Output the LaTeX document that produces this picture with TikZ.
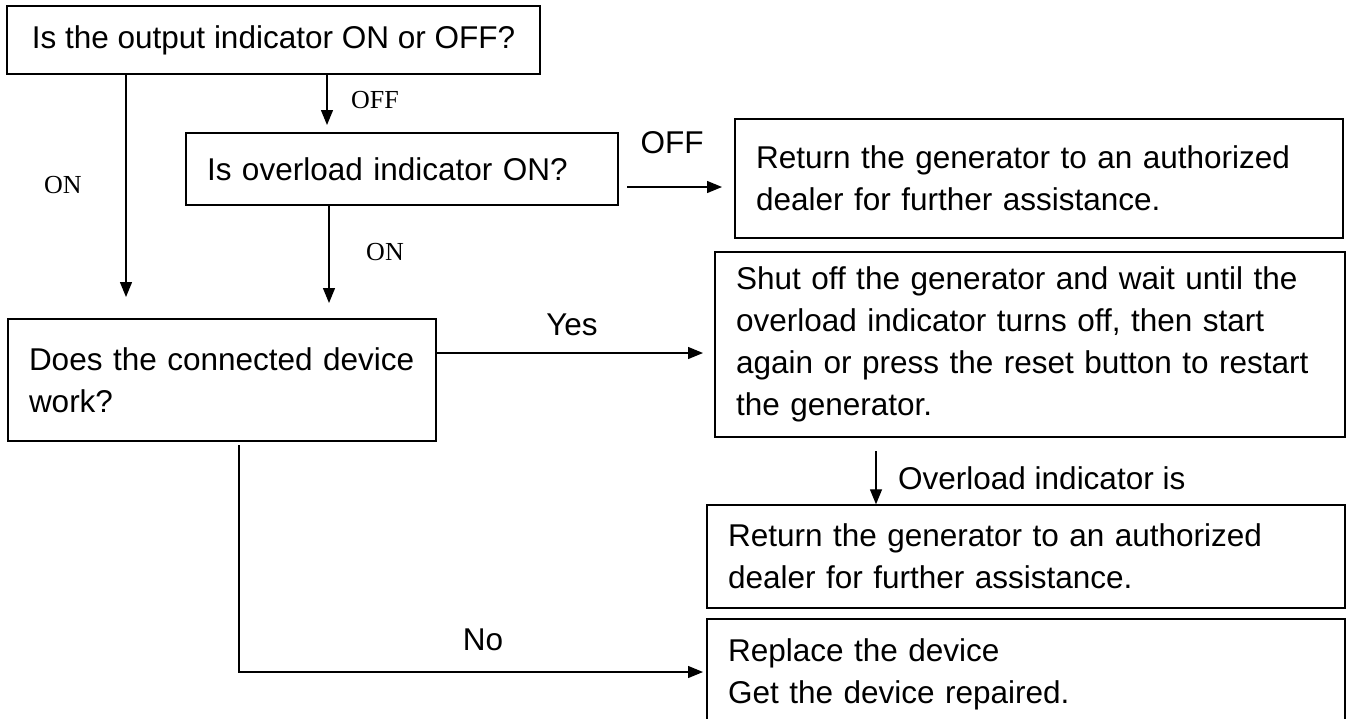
\documentclass[tikz,border=0pt]{standalone}
\usepackage{fontspec}
\setmainfont{Liberation Sans}
\newfontfamily\serifl{Liberation Serif}
\usetikzlibrary{arrows.meta}
\begin{document}
\begin{tikzpicture}[x=1pt,y=-1pt,
  box/.style={draw, line width=1.4pt, inner xsep=21pt, inner ysep=0pt, align=left,
    font=\fontsize{31.5}{42}\selectfont},
  arr/.style={line width=1.3pt, -{Triangle[length=15pt,width=12pt]}},
  slab/.style={font=\serifl\fontsize{26}{30}\selectfont, inner sep=0pt},
  lab/.style={font=\fontsize{31.5}{36}\selectfont, inner sep=0pt}]
\useasboundingbox (0,0) rectangle (1356,718);
\clip (0,0) rectangle (1356,718);
% boxes
\node[box, align=center, inner xsep=0pt, minimum width=533pt, minimum height=68pt] (b1) at (273.5,40) {Is the output indicator ON or OFF?};
\node[box, text width=390pt, minimum height=72pt] (b2) at (402,169) {Is overload indicator ON?};
\node[box, text width=386pt, minimum height=122pt] (b3) at (222,380) {Does the connected device\\work?};
\node[box, text width=566pt, minimum height=119pt] (b4) at (1039,178.5) {Return the generator to an authorized\\dealer for further assistance.};
\node[box, text width=588pt, minimum height=185pt] (b5) at (1030,344.5) {Shut off the generator and wait until the\\overload indicator turns off, then start\\again or press the reset button to restart\\the generator.};
\node[box, text width=596pt, minimum height=103pt] (b6) at (1026,556.5) {Return the generator to an authorized\\dealer for further assistance.};
\node[box, text width=596pt, minimum height=110pt] (b7) at (1026,674) {Replace the device\\Get the device repaired.};
% connector end points
\coordinate (onL) at (126,297);
\coordinate (offT) at (327,125);
\coordinate (onR) at (329,303);
\coordinate (offR) at (722,187);
\coordinate (yesE) at (703,353);
\coordinate (ovS) at (876,451);
\coordinate (noS) at (239,445);
\coordinate (noC) at (239,672);
\coordinate (noE) at (703,672);
% connectors
\draw[arr] (b1.south -| onL) -- (onL);
\draw[arr] (b1.south -| offT) -- (offT);
\draw[arr] (b2.south -| onR) -- (onR);
\draw[arr] (627,187) -- (offR);
\draw[arr] (b3.east |- yesE) -- (yesE);
\draw[arr] (ovS) -- (b6.north -| ovS);
\draw[arr] (noS) -- (noC) -- (noE);
% labels
\node[slab] (lOFF1) at (375,100) {OFF};
\node[slab] (lON1) at (63,185) {ON};
\node[slab] (lON2) at (385,252) {ON};
\node[lab] (lOFF2) at (672,143) {OFF};
\node[lab] (lYes) at (572,325) {Yes};
\node[lab] (lNo) at (483,640) {No};
\node[lab, anchor=west] (lOv) at (898,478) {Overload indicator is};
\end{tikzpicture}
\end{document}
